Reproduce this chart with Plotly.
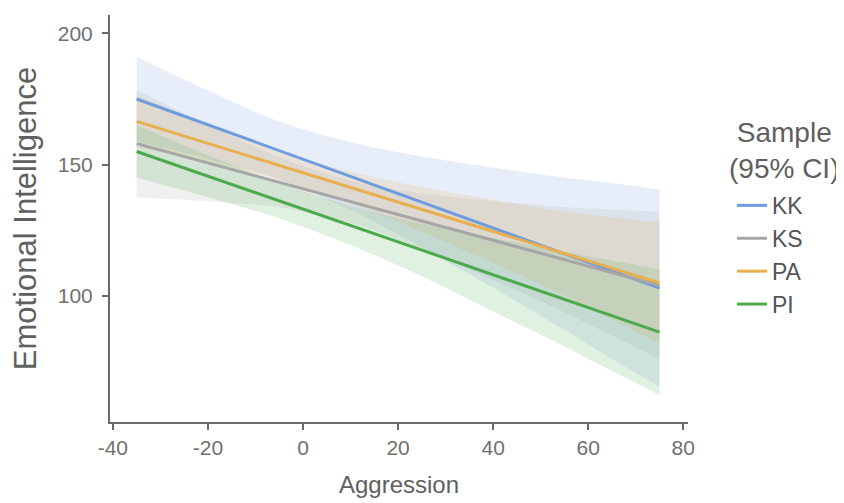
import plotly.graph_objects as go

# Aggression values where fits / confidence limits were read
aggression = [-35, -20, -5, 10, 25, 40, 55, 65, 75]

samples = ["KK", "KS", "PA", "PI"]

KK_fit = [175, 165.2, 155.4, 145.6, 135.8, 126.0, 116.1, 109.5, 103]
KK_hi = [191, 178.2, 166.4, 158.5, 153.1, 148.9, 145.1, 143, 140.5]
KK_lo = [159, 152.2, 144.4, 132.7, 118.5, 103.1, 87.1, 76, 65.5]

KS_fit = [158, 150.6, 143.3, 135.9, 128.5, 121.1, 113.8, 108.9, 104]
KS_hi = [178.5, 165.1, 152.8, 143.9, 139, 136.1, 133.8, 132.9, 132]
KS_lo = [137.5, 136.1, 133.8, 127.9, 118, 106.1, 93.8, 84.9, 76]

PA_fit = [166.5, 158.1, 149.7, 141.3, 133.0, 124.6, 116.2, 110.6, 105]
PA_hi = [176.5, 165.1, 155.2, 147.3, 141.5, 136.6, 132.2, 130.1, 128]
PA_lo = [156.5, 151.1, 144.2, 135.3, 124.5, 112.6, 100.2, 91.1, 82]

PI_fit = [155, 145.6, 136.3, 126.9, 117.5, 108.1, 98.8, 92.5, 86.2]
PI_hi = [165, 153.6, 143.1, 134.4, 127.5, 122.1, 116.8, 113.5, 110.2]
PI_lo = [145, 137.6, 129.5, 119.4, 107.5, 94.1, 80.8, 71.5, 62.2]

x_ticks = [-40, -20, 0, 20, 40, 60, 80]
x_tick_labels = ["-40", "-20", "0", "20", "40", "60", "80"]
y_ticks = [100, 150, 200]
y_tick_labels = ["100", "150", "200"]

line_colors = {"KK": "#6f9cde", "KS": "#a6a6a6", "PA": "#e9ae4e", "PI": "#4caa4c"}
fill_colors = {"KK": "rgba(111,156,222,0.17)", "KS": "rgba(166,166,166,0.17)",
               "PA": "rgba(233,174,78,0.17)", "PI": "rgba(76,170,76,0.17)"}

fits = {"KK": KK_fit, "KS": KS_fit, "PA": PA_fit, "PI": PI_fit}
his = {"KK": KK_hi, "KS": KS_hi, "PA": PA_hi, "PI": PI_hi}
los = {"KK": KK_lo, "KS": KS_lo, "PA": PA_lo, "PI": PI_lo}

FONT = "Liberation Sans, Arial, sans-serif"

fig = go.Figure()

# confidence bands: lower edge, then upper edge filled down to it
for s in samples:
    fig.add_trace(go.Scatter(
        x=aggression, y=los[s], mode="lines",
        line=dict(width=0, shape="spline", smoothing=0.8),
        showlegend=False, hoverinfo="skip"))
    fig.add_trace(go.Scatter(
        x=aggression, y=his[s], mode="lines",
        fill="tonexty", fillcolor=fill_colors[s],
        line=dict(width=0, shape="spline", smoothing=0.8),
        showlegend=False, hoverinfo="skip"))

for s in samples:
    fig.add_trace(go.Scatter(
        x=aggression, y=fits[s], mode="lines", name=s,
        line=dict(color=line_colors[s], width=3)))

axis_common = dict(
    showgrid=False, zeroline=False, showline=True, linecolor="#6a6a6a",
    linewidth=2, ticks="outside", ticklen=6, tickwidth=2, tickcolor="#6a6a6a",
    tickfont=dict(family=FONT, size=21, color="#707070"))

fig.update_xaxes(range=[-40.6, 81], tickvals=x_ticks, ticktext=x_tick_labels,
                 title=dict(text="Aggression", standoff=18,
                            font=dict(family=FONT, size=24, color="#606060")),
                 **axis_common)
fig.update_yaxes(range=[52, 207], tickvals=y_ticks, ticktext=y_tick_labels,
                 title=dict(text="Emotional Intelligence", standoff=12,
                            font=dict(family=FONT, size=31, color="#606060")),
                 ticklabelstandoff=5,
                 **axis_common)

fig.add_annotation(text="Sample<br>(95% CI)", xref="paper", yref="paper",
                   x=1.166, y=0.668, xanchor="center", yanchor="middle",
                   showarrow=False, align="center",
                   font=dict(family=FONT, size=28, color="#606060"))

# page body adds an 8px margin, so the figure is sized to fit the window
fig.update_layout(
    width=836, height=495,
    margin=dict(l=102, r=156, t=7, b=81, autoexpand=False),
    plot_bgcolor="white", paper_bgcolor="white",
    legend=dict(x=1.076, y=0.585, xanchor="left", yanchor="top",
                traceorder="normal",
                font=dict(family=FONT, size=23, color="#555555"),
                bgcolor="rgba(0,0,0,0)", itemwidth=30, tracegroupgap=0),
)

fig.write_html("out.html")
